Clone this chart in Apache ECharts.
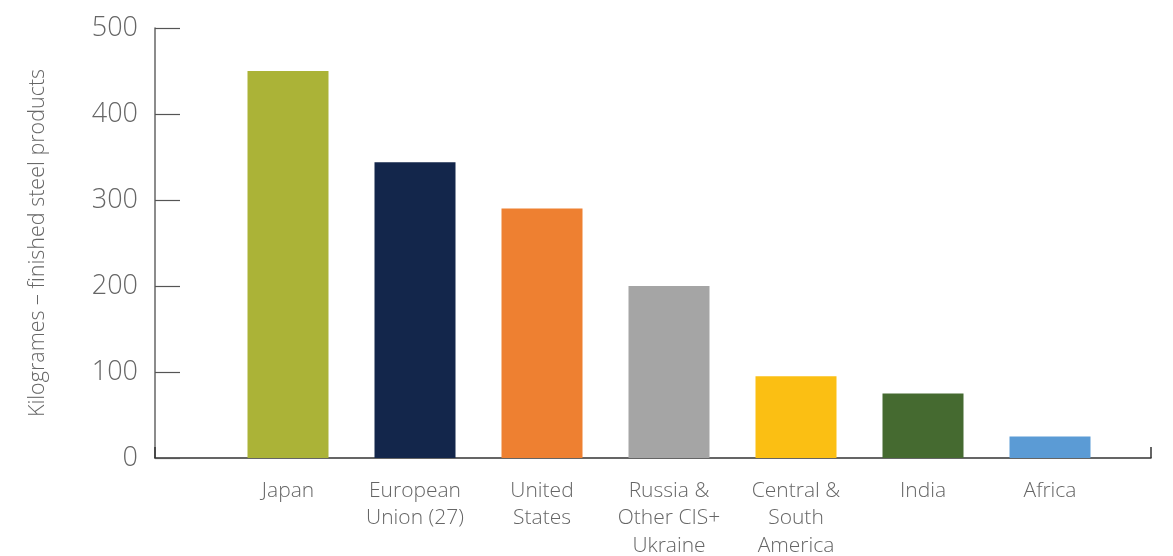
<!DOCTYPE html>
<html><head><meta charset="utf-8">
<script src="https://cdn.jsdelivr.net/npm/echarts@6/dist/echarts.min.js"></script>
<style>html,body{margin:0;padding:0;background:#fff}#c{width:1173px;height:556px}</style>
</head><body><div id="c"></div>
<script>
const categories = ['Japan', 'European\nUnion (27)', 'United\nStates', 'Russia &\nOther CIS+\nUkraine', 'Central &\nSouth\nAmerica', 'India', 'Africa'];
const values = [450, 344, 290, 200, 95, 75, 25];
const colors = ['#abb337', '#13264b', '#ee8031', '#a5a5a5', '#fbbf13', '#456a30', '#5b9bd5'];
const yTicks = [0, 100, 200, 300, 400, 500];
const yName = 'Kilogrames – finished steel products';

const font = '"Open Sans", Lato, "Liberation Sans", sans-serif';
const chart = echarts.init(document.getElementById('c'));
chart.setOption({
  animation: false,
  grid: [
    {left: 155, width: 996, top: 28, bottom: 98, outerBoundsMode: 'none', containLabel: false},
    {left: 224.5, width: 889, top: 28, bottom: 98, outerBoundsMode: 'none', containLabel: false}
  ],
  xAxis: [
    {gridIndex: 0, type: 'value', min: 0, max: 1, interval: 1,
      axisLine: {show: true, lineStyle: {color: '#333', width: 1.5}},
      axisTick: {show: true, inside: true, length: 11, lineStyle: {color: '#333', width: 1.5}},
      axisLabel: {show: false}, splitLine: {show: false}},
    {gridIndex: 1, type: 'category', data: categories,
      axisLine: {show: false}, axisTick: {show: false},
      axisLabel: {color: '#666', fontSize: 21, fontFamily: font, fontWeight: 300, lineHeight: 27.5, margin: 19, interval: 0}}
  ],
  yAxis: [
    {gridIndex: 0, type: 'value', min: yTicks[0], max: yTicks[yTicks.length - 1], interval: 100,
      name: yName, nameLocation: 'middle', nameGap: 106, nameRotate: 90,
      nameTextStyle: {color: '#666', fontSize: 21.5, fontFamily: font, fontWeight: 300},
      axisLine: {show: true, lineStyle: {color: '#666', width: 1.5}},
      axisTick: {show: true, inside: true, length: 25, lineStyle: {color: '#555', width: 1.2}},
      axisLabel: {color: '#666', fontSize: 27, fontFamily: font, fontWeight: 300, margin: 17},
      splitLine: {show: false}},
    {gridIndex: 1, type: 'value', min: yTicks[0], max: yTicks[yTicks.length - 1], show: false}
  ],
  series: [{
    type: 'bar', xAxisIndex: 1, yAxisIndex: 1, barWidth: 81,
    data: values.map((v, i) => ({value: v, itemStyle: {color: colors[i]}}))
  }]
});
</script></body></html>
